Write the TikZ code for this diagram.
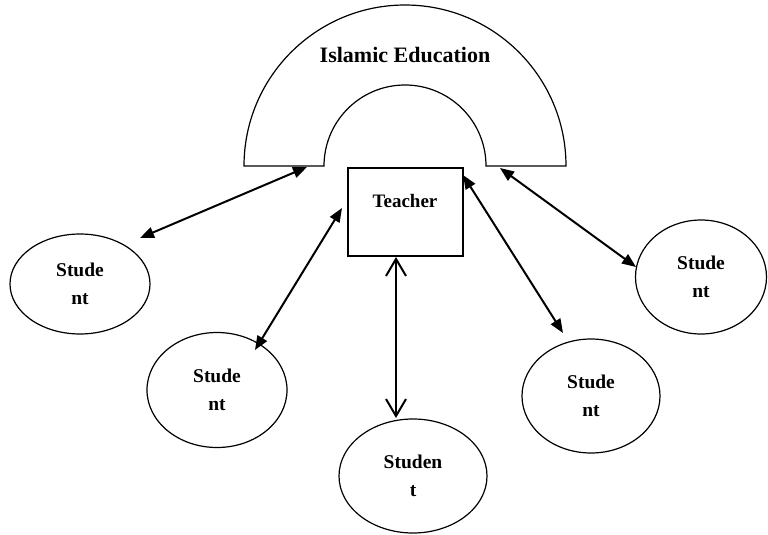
\documentclass[tikz,border=0pt]{standalone}
\usepackage{fontspec}
\setmainfont{Liberation Serif}
\usetikzlibrary{arrows.meta,shapes.geometric}
\begin{document}
\begin{tikzpicture}[x=1pt,y=-1pt,
  shape line/.style={line width=1.2pt},
  stud/.style={draw,shape line,ellipse,inner sep=0pt,align=center,
    font=\fontsize{19.5}{28}\selectfont\bfseries},
  link/.style={line width=2pt,{Triangle[length=14pt,width=11pt]}-{Triangle[length=14pt,width=11pt]}},
  openlink/.style={line width=2pt,{Straight Barb[length=17pt,width=20pt,line width=2pt]}-{Straight Barb[length=17pt,width=20pt,line width=2pt]}}]
\useasboundingbox (0,0) rectangle (768,535);
% arch
\draw[shape line] (244,166) arc[start angle=180,end angle=360,radius=161]
  -- (486,166) arc[start angle=360,end angle=180,radius=81] -- cycle;
\node[font=\fontsize{22}{24}\selectfont\bfseries] (edu) at (405,55) {Islamic Education};
% teacher
\node[draw,shape line,minimum width=115pt,minimum height=88pt,inner sep=0pt] (teacher) at (405.5,212) {};
\node[font=\fontsize{19}{22}\selectfont\bfseries] (tlabel) at (405,201) {Teacher};
% students
\node[stud,minimum width=140pt,minimum height=100pt] (s1) at (80,284) {Stude\\nt};
\node[stud,minimum width=140pt,minimum height=115pt] (s2) at (217,390) {Stude\\nt};
\node[stud,minimum width=148pt,minimum height=114pt] (s3) at (413,476) {Studen\\t};
\node[stud,minimum width=138pt,minimum height=114pt] (s4) at (591,396) {Stude\\nt};
\node[stud,minimum width=131pt,minimum height=114pt] (s5) at (701,277) {Stude\\nt};
% arrow end points
\coordinate (a1s) at (140,238); \coordinate (a1e) at (307,167);
\coordinate (a2s) at (255,350); \coordinate (a2e) at (342,208);
\coordinate (a3s) at (396,257); \coordinate (a3e) at (396,418);
\coordinate (a4s) at (463,175); \coordinate (a4e) at (563,333);
\coordinate (a5s) at (500,168); \coordinate (a5e) at (636,267);
\draw[link] (a1s) -- (a1e);
\draw[link] (a2s) -- (a2e);
\draw[openlink] (a3s) -- (a3e);
\draw[link] (a4s) -- (a4e);
\draw[link] (a5s) -- (a5e);
\end{tikzpicture}
\end{document}
